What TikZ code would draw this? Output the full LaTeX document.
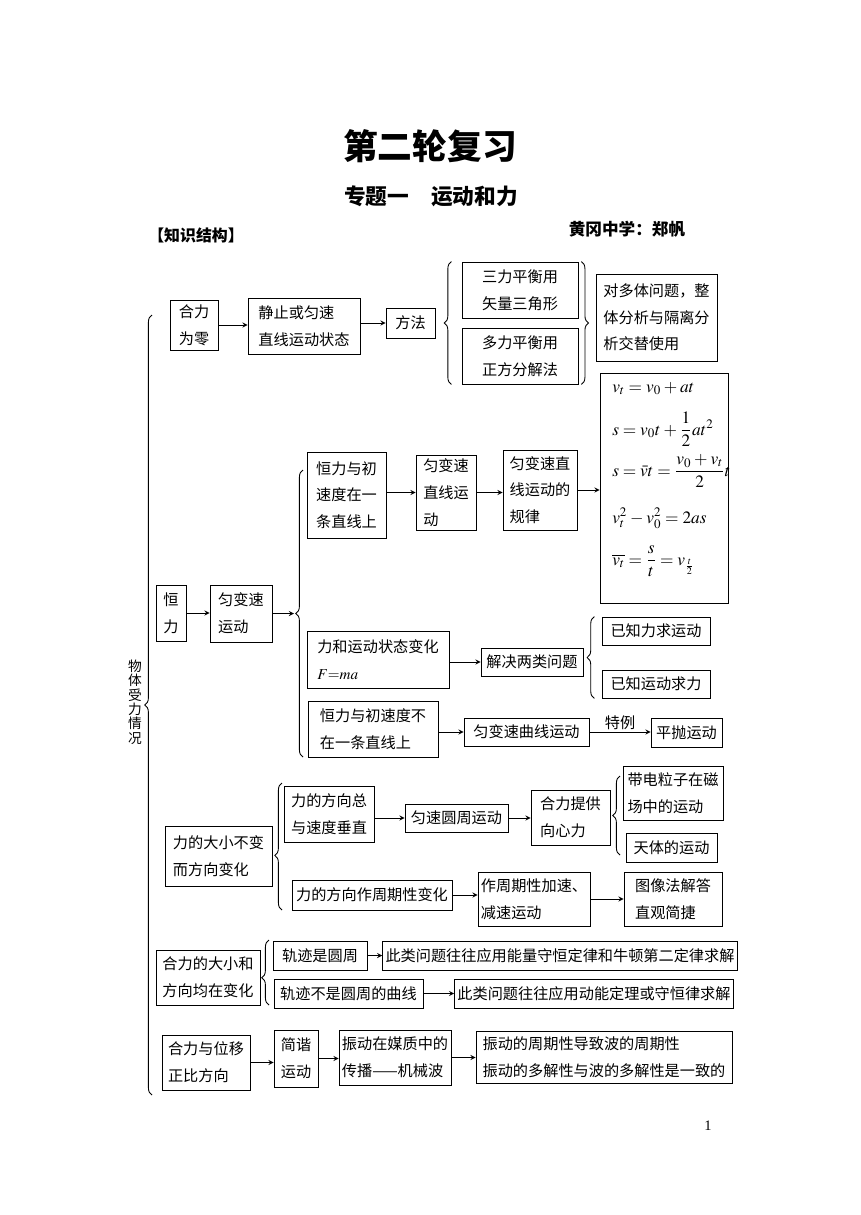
\documentclass[tikz,border=0pt]{standalone}
\usepackage{amsmath}
\usepackage[no-math]{fontspec}
\usepackage{mathptmx}
\setmainfont{Noto Sans CJK SC}
\newfontfamily\numfont{Liberation Serif}
\usetikzlibrary{positioning,decorations.pathreplacing}

\newcommand\tightmath{\thickmuskip=4mu\relax\medmuskip=3mu\relax}

\tikzset{
  box/.style={draw, line width=0.6pt, align=left, inner xsep=2pt, inner ysep=2pt,
    font=\fontsize{10.5}{18.5}\selectfont},
  sz/.style 2 args={minimum width=#1*0.6922pt, minimum height=#2*0.6922pt},
  fml/.style={anchor=base west, inner sep=0pt,
    font=\fontsize{12}{12}\selectfont\tightmath},
  arr/.style={-stealth, line width=0.6pt},
  brc/.style={decorate, decoration={brace, amplitude=5pt, aspect=#1}, line width=0.6pt},
  brc/.default=0.5
}

\begin{document}
\begin{tikzpicture}[x=0.6922pt, y=-0.6922pt]
  \useasboundingbox (0,0) rectangle (860,1215);

  % headings
  \node[font=\fontsize{24}{24}\selectfont\bfseries] (title) at (430,146) {第二轮复习};
  \node[font=\fontsize{15}{15}\selectfont\bfseries] (sub) at (431,196) {专题一\quad 运动和力};
  \node[font=\fontsize{11}{11}\selectfont\bfseries] (zsjg) at (196,235) {【知识结构】};
  \node[font=\fontsize{11.5}{11.5}\selectfont\bfseries] (zz) at (627,229) {黄冈中学：郑帆};

  % left label
  \node[align=center, font=\fontsize{9.5}{10}\selectfont] (wt) at (135,702)
    {物\\体\\受\\力\\情\\况};
  \draw[brc] (152,1095) -- (152,315);

  % net force zero
  \node[box, sz={48}{50}] (hlwl) at (194,325) {合力\\为零};
  \node[box, sz={112}{56}] (jz) at (304,326) {静止或匀速\\直线运动状态};
  \node[box, sz={49}{30}] (ff) at (410.5,323) {方法};
  \node[box, sz={116}{56}] (sanli) at (520,290) {三力平衡用\\矢量三角形};
  \node[box, sz={116}{56}] (duoli) at (520,356) {多力平衡用\\正方分解法};
  \node[box, sz={121}{87}] (zt) at (656.5,317.5) {对多体问题，整\\体分析与隔离分\\析交替使用};

  \draw[arr] (hlwl.east) -- (hlwl.east -| jz.west);
  \draw[arr] (jz.east |- ff.west) -- (ff.west);
  \draw[brc] ([xshift=-7pt]duoli.south west) -- ([xshift=-7pt]sanli.north west);
  \draw[brc] ([xshift=2pt]sanli.north east) -- ([xshift=2pt]duoli.south east);

  % constant force
  \node[box, sz={128}{230}] (gs) at (664,488) {};
  \node[fml] (f1) at (612,392) {$v_t=v_0+at$};
  \node[fml] (f2) at (612,435) {$s=v_0t+\dfrac{1}{2}at^2$};
  \node[fml] (f3) at (612,476) {$s=\bar{v}t=\dfrac{v_0+v_t}{2}t$};
  \node[fml] (f4) at (612,523) {$v_t^2-v_0^2=2as$};
  \node[fml] (f5) at (612,565) {$\overline{v_t}=\dfrac{s}{t}=v_{\frac{t}{2}}$};

  \node[box, sz={79}{86}] (hl1) at (346.5,495) {恒力与初\\速度在一\\条直线上};
  \node[box, sz={60}{75}] (ybs) at (446,492.5) {匀变速\\直线运\\动};
  \node[box, sz={74}{80}] (gl) at (540,490) {匀变速直\\线运动的\\规律};
  \node[box, sz={30}{56}] (hengli) at (171,613) {恒\\力};
  \node[box, sz={62}{57}] (ybsyd) at (241,613.5) {匀变速\\运动};
  \node[box, sz={142}{57}] (ma) at (378,659.5) {力和运动状态变化\\$F{=}ma$};
  \node[box, sz={102}{28}] (jj) at (532,662) {解决两类问题};
  \node[box, sz={108}{28}] (yzl) at (656,631) {已知力求运动};
  \node[box, sz={108}{28}] (yzy) at (656,684) {已知运动求力};
  \node[box, sz={130}{56}] (hl2) at (373,729) {恒力与初速度不\\在一条直线上};
  \node[box, sz={125}{28}] (qx) at (526.5,732) {匀变速曲线运动};
  \node[box, sz={71}{29}] (pp) at (686.5,732.5) {平抛运动};

  \coordinate (hltip) at (294,613.5);
  \draw[brc] (303,757) -- (303,470);
  \draw[arr] (hengli.east) -- (hengli.east -| ybsyd.west);
  \draw[arr] (ybsyd.east) -- (hltip);
  \draw[arr] (hl1.east |- ybs.west) -- (ybs.west);
  \draw[arr] (ybs.east) -- (ybs.east -| gl.west);
  \draw[arr] (gl.east) -- (gl.east -| gs.west);
  \draw[arr] (ma.east |- jj.west) -- (jj.west);
  \draw[brc] ([xshift=-5pt]yzy.south west) -- ([xshift=-5pt]yzl.north west);
  \draw[arr] (hl2.east |- qx.west) -- (qx.west);
  \draw[arr] (qx.east) -- node[above, inner sep=1pt, font=\fontsize{10.5}{12}\selectfont] {特例}
    (qx.east -| pp.west);

  % size fixed, direction changes
  \node[box, sz={107}{60}] (dxbb) at (218.5,856) {力的大小不变\\而方向变化};
  \node[box, sz={90}{56}] (czh) at (329,814) {力的方向总\\与速度垂直};
  \node[box, sz={103}{28}] (yszh) at (456.5,818) {匀速圆周运动};
  \node[box, sz={79}{55}] (xxl) at (570.5,817.5) {合力提供\\向心力};
  \node[box, sz={100}{54}] (dd) at (673,793) {带电粒子在磁\\场中的运动};
  \node[box, sz={91}{29}] (tt) at (671.5,847.5) {天体的运动};
  \node[box, sz={160}{30}] (zq) at (372,895) {力的方向作周期性变化};
  \node[box, sz={112}{54}] (zqjs) at (534,899) {作周期性加速、\\减速运动};
  \node[box, sz={98}{54}] (tx) at (673,899) {图像法解答\\直观简捷};

  \draw[brc=0.43] (282,910) -- (282,783);
  \draw[arr] (czh.east |- yszh.west) -- (yszh.west);
  \draw[arr] (yszh.east) -- (yszh.east -| xxl.west);
  \draw[brc] (620,855) -- (620,776);
  \draw[arr] (zq.east) -- (zq.east -| zqjs.west);
  \draw[arr] (zqjs.east) -- (zqjs.east -| tx.west);

  % size and direction change
  \node[box, sz={104}{55}] (dxfx) at (208,977.5) {合力的大小和\\方向均在变化};
  \node[box, sz={94}{29}] (yz) at (320,955.5) {轨迹是圆周};
  \node[box, sz={344}{29}] (nl) at (560,955.5) {此类问题往往应用能量守恒定律和牛顿第二定律求解};
  \node[box, sz={149}{29}] (bsyz) at (348.5,993.5) {轨迹不是圆周的曲线};
  \node[box, sz={273}{29}] (dn) at (594,993.5) {此类问题往往应用动能定理或守恒律求解};

  \draw[brc=0.42] (269,1005) -- (269,940);
  \draw[arr] (yz.east) -- (yz.east -| nl.west);
  \draw[arr] (bsyz.east) -- (bsyz.east -| dn.west);

  % proportional to displacement
  \node[box, sz={88}{55}] (wy) at (206,1062.5) {合力与位移\\正比方向};
  \node[box, sz={44}{57}] (jx) at (296,1058.5) {简谐\\运动};
  \node[box, sz={110}{55}] (cb) at (395,1057.5) {振动在媒质中的\\传播——机械波};
  \node[box, sz={256}{52}] (zd) at (604,1057) {振动的周期性导致波的周期性\\振动的多解性与波的多解性是一致的};

  \draw[arr] (wy.east) -- (wy.east -| jx.west);
  \draw[arr] (jx.east) -- (jx.east -| cb.west);
  \draw[arr] (cb.east) -- (cb.east -| zd.west);

  \node[font=\numfont\fontsize{10}{12}\selectfont] (pg) at (708,1126) {1};
\end{tikzpicture}
\end{document}
